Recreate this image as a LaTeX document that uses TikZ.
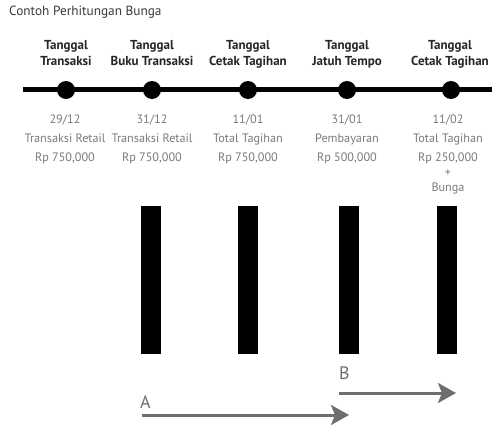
\documentclass[tikz,border=0pt]{standalone}
\usepackage{fontspec}
\setmainfont{PT Sans}
\usetikzlibrary{arrows.meta}
\definecolor{txtgray}{HTML}{7A7A7A}
\definecolor{arrgray}{HTML}{6E6E6E}
\definecolor{titlegray}{HTML}{3A3A3A}
\tikzset{
  hdr/.style={align=center, anchor=base, inner sep=0pt, font=\bfseries\fontsize{13}{16}\selectfont, text=black!85},
  info/.style={align=center, anchor=base, inner sep=0pt, font=\fontsize{12.2}{19}\selectfont, text=txtgray},
  dot/.style={circle, fill=black, minimum size=18pt, inner sep=0pt},
  bar/.style={fill=black, minimum width=20pt, minimum height=148pt, inner sep=0pt},
  lbl/.style={anchor=base west, inner sep=0pt, font=\fontsize{18}{20}\selectfont, text=arrgray},
  garrow/.style={draw=arrgray, line width=3pt, -{Stealth[length=18pt, width=20pt, inset=4pt]}}
}
\begin{document}
\begin{tikzpicture}[x=1pt, y=-1pt]
\useasboundingbox (0,0) rectangle (492,425);
\node[anchor=base west, inner sep=0pt, font=\fontsize{13.3}{15}\selectfont, text=titlegray] (title) at (9,16) {Contoh Perhitungan Bunga};
% timeline
\coordinate (tl) at (23,90);
\coordinate (tr) at (492,90);
\draw[line width=5pt] (tl) -- (tr);
\node[dot] (d1) at (66,90) {};
\node[dot] (d2) at (152,90) {};
\node[dot] (d3) at (248,90) {};
\node[dot] (d4) at (347,90) {};
\node[dot] (d5) at (451,90) {};
% headers (base = last line)
\node[hdr] (h1) at (66,66) {Tanggal\\Transaksi};
\node[hdr] (h2) at (152,66) {Tanggal\\Buku Transaksi};
\node[hdr] (h3) at (248,66) {Tanggal\\Cetak Tagihan};
\node[hdr] (h4) at (347,66) {Tanggal\\Jatuh Tempo};
\node[hdr] (h5) at (450,66) {Tanggal\\Cetak Tagihan};
% info (base = last line)
\node[info] (i1) at (65,161) {29/12\\Transaksi Retail\\Rp 750,000};
\node[info] (i2) at (152,161) {31/12\\Transaksi Retail\\Rp 750,000};
\node[info] (i3) at (248,161) {11/01\\Total Tagihan\\Rp 750,000};
\node[info] (i4) at (347,161) {31/01\\Pembayaran\\Rp 500,000};
\node[info] (i5) at (448,191) {11/02\\Total Tagihan\\Rp 250,000\\[-4pt]+\\[-4pt]Bunga};
% bars
\node[bar] (b1) at (151,280) {};
\node[bar] (b2) at (248,280) {};
\node[bar] (b3) at (349,280) {};
\node[bar] (b4) at (447,280) {};
% labels and arrows
\node[lbl] (la) at (140,408) {A};
\node[lbl] (lb) at (339,379) {B};
\coordinate (a1) at (142,415);
\coordinate (a2) at (349,415);
\coordinate (c1) at (339,393);
\coordinate (c2) at (456,393);
\draw[garrow] (a1) -- (a2);
\draw[garrow] (c1) -- (c2);
\end{tikzpicture}
\end{document}
